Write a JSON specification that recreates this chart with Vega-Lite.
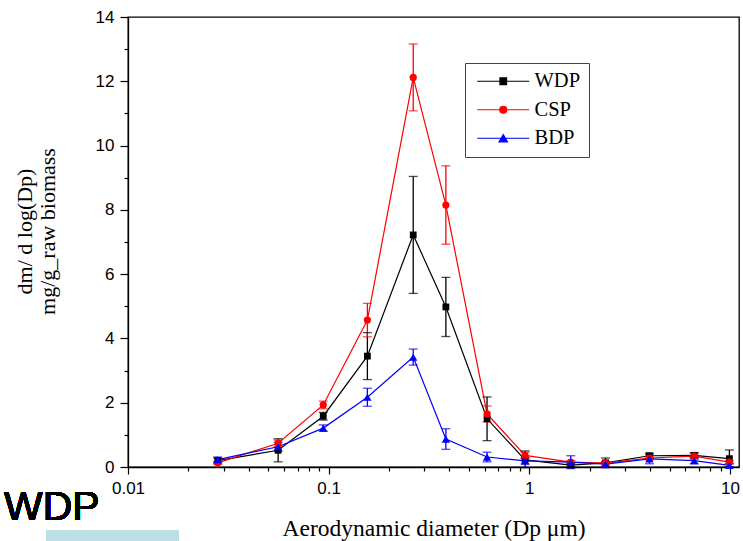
{
  "$schema": "https://vega.github.io/schema/vega-lite/v6.json",
  "width": 611,
  "height": 450,
  "autosize": "none",
  "padding": {"left": 128, "top": 17, "right": 4, "bottom": 74},
  "background": "white",
  "config": {
    "view": {"stroke": "#000000", "strokeWidth": 1.3},
    "axis": {"grid": false, "domainColor": "#000000", "tickColor": "#000000", "labelColor": "#000000", "titleColor": "#000000", "domainWidth": 1.3, "tickWidth": 1.2}
  },
  "data": {
    "values": [
      {"g": "WDP", "d": 0.028, "v": 0.20, "lo": 0.12, "hi": 0.28},
      {"g": "WDP", "d": 0.056, "v": 0.52, "lo": 0.16, "hi": 0.88},
      {"g": "WDP", "d": 0.094, "v": 1.58, "lo": 1.46, "hi": 1.70},
      {"g": "WDP", "d": 0.156, "v": 3.45, "lo": 2.72, "hi": 4.18},
      {"g": "WDP", "d": 0.264, "v": 7.22, "lo": 5.40, "hi": 9.04},
      {"g": "WDP", "d": 0.384, "v": 4.98, "lo": 4.06, "hi": 5.90},
      {"g": "WDP", "d": 0.616, "v": 1.50, "lo": 0.82, "hi": 2.18},
      {"g": "WDP", "d": 0.953, "v": 0.22, "lo": -0.02, "hi": 0.50},
      {"g": "WDP", "d": 1.61, "v": 0.06, "lo": 0.0, "hi": 0.12},
      {"g": "WDP", "d": 2.4, "v": 0.13, "lo": -0.02, "hi": 0.28},
      {"g": "WDP", "d": 3.97, "v": 0.35, "lo": 0.27, "hi": 0.43},
      {"g": "WDP", "d": 6.64, "v": 0.36, "lo": 0.28, "hi": 0.44},
      {"g": "WDP", "d": 9.94, "v": 0.26, "lo": 0.0, "hi": 0.53},
      {"g": "CSP", "d": 0.028, "v": 0.13, "lo": 0.08, "hi": 0.18},
      {"g": "CSP", "d": 0.056, "v": 0.74, "lo": 0.64, "hi": 0.84},
      {"g": "CSP", "d": 0.094, "v": 1.93, "lo": 1.81, "hi": 2.05},
      {"g": "CSP", "d": 0.156, "v": 4.57, "lo": 4.05, "hi": 5.09},
      {"g": "CSP", "d": 0.264, "v": 12.12, "lo": 11.08, "hi": 13.16},
      {"g": "CSP", "d": 0.384, "v": 8.15, "lo": 6.93, "hi": 9.37},
      {"g": "CSP", "d": 0.616, "v": 1.65, "lo": 1.40, "hi": 1.90},
      {"g": "CSP", "d": 0.953, "v": 0.36, "lo": 0.26, "hi": 0.46},
      {"g": "CSP", "d": 1.61, "v": 0.15, "lo": 0.10, "hi": 0.20},
      {"g": "CSP", "d": 2.4, "v": 0.12, "lo": 0.07, "hi": 0.17},
      {"g": "CSP", "d": 3.97, "v": 0.28, "lo": 0.22, "hi": 0.34},
      {"g": "CSP", "d": 6.64, "v": 0.34, "lo": 0.24, "hi": 0.44},
      {"g": "CSP", "d": 9.94, "v": 0.15, "lo": 0.10, "hi": 0.20},
      {"g": "BDP", "d": 0.028, "v": 0.23, "lo": 0.15, "hi": 0.31},
      {"g": "BDP", "d": 0.056, "v": 0.63, "lo": 0.49, "hi": 0.77},
      {"g": "BDP", "d": 0.094, "v": 1.21, "lo": 1.11, "hi": 1.31},
      {"g": "BDP", "d": 0.156, "v": 2.17, "lo": 1.89, "hi": 2.45},
      {"g": "BDP", "d": 0.264, "v": 3.42, "lo": 3.17, "hi": 3.67},
      {"g": "BDP", "d": 0.384, "v": 0.87, "lo": 0.55, "hi": 1.19},
      {"g": "BDP", "d": 0.616, "v": 0.31, "lo": 0.16, "hi": 0.46},
      {"g": "BDP", "d": 0.953, "v": 0.19, "lo": 0.09, "hi": 0.29},
      {"g": "BDP", "d": 1.61, "v": 0.15, "lo": -0.05, "hi": 0.35},
      {"g": "BDP", "d": 2.4, "v": 0.09, "lo": 0.01, "hi": 0.17},
      {"g": "BDP", "d": 3.97, "v": 0.25, "lo": 0.10, "hi": 0.40},
      {"g": "BDP", "d": 6.64, "v": 0.20, "lo": 0.10, "hi": 0.30},
      {"g": "BDP", "d": 9.94, "v": 0.05, "lo": 0.0, "hi": 0.10}
    ]
  },
  "layer": [
    {
      "mark": {"type": "line", "strokeWidth": 1.2, "clip": false},
      "encoding": {
        "x": {"field": "d", "type": "quantitative", "scale": {"type": "log", "domain": [0.01, 11.1], "nice": false},
          "axis": {"orient": "bottom", "values": [0.01, 0.1, 1, 10], "format": "~g", "labelFont": "Liberation Sans", "labelFontSize": 17, "labelPadding": 6, "labelFlush": false, "labelOverlap": false, "tickSize": 7,
            "title": "Aerodynamic diameter (Dp μm)", "titleFont": "Liberation Serif", "titleFontSize": 23.5, "titleFontWeight": "normal", "titleY": 68, "titleBaseline": "alphabetic"}},
        "y": {"field": "v", "type": "quantitative", "scale": {"domain": [0, 14], "nice": false, "zero": false},
          "axis": {"orient": "left", "values": [0, 2, 4, 6, 8, 10, 12, 14], "labelFont": "Liberation Sans", "labelFontSize": 17, "labelPadding": 6, "tickSize": 8,
            "title": ["dm/ d log(Dp)", "mg/g_raw biomass"], "titleFont": "Liberation Serif", "titleFontSize": 22, "titleFontWeight": "normal", "titleLineHeight": 23, "titleAngle": 270, "titleBaseline": "top", "titleAlign": "center", "titleX": -114, "titleY": 214}},
        "color": {"field": "g", "type": "nominal", "scale": {"domain": ["WDP", "CSP", "BDP"], "range": ["#000000", "#ff0000", "#0000ff"]},
          "legend": {"title": null, "orient": "none", "legendX": 337, "legendY": 46, "direction": "vertical",
            "labelFont": "Liberation Serif", "labelFontSize": 20.5, "labelColor": "#000000", "symbolSize": 100, "symbolOffset": 20, "labelOffset": 21,
            "padding": 8, "rowPadding": 7.5, "strokeColor": "#444444", "fillColor": "#ffffff", "symbolStrokeWidth": 1.2,
            "encoding": {"symbols": {
              "shape": {"condition": [
                {"test": "datum.value === 'WDP'", "value": "M-5.2,0H5.2M-0.66,-0.66H0.66V0.66H-0.66Z"},
                {"test": "datum.value === 'CSP'", "value": "M-5.2,0H5.2M0.7,0A0.7,0.7,0,1,1,-0.7,0A0.7,0.7,0,1,1,0.7,0Z"}
              ], "value": "M-5.2,0H5.2M0,-0.72L0.84,0.72H-0.84Z"},
              "fill": {"condition": [
                {"test": "datum.value === 'WDP'", "value": "#000000"},
                {"test": "datum.value === 'CSP'", "value": "#ff0000"}
              ], "value": "#0000ff"},
              "stroke": {"condition": [
                {"test": "datum.value === 'WDP'", "value": "#000000"},
                {"test": "datum.value === 'CSP'", "value": "#ff0000"}
              ], "value": "#0000ff"},
              "strokeWidth": {"value": 1.2}
            }}}}
      }
    },
    {
      "mark": {"type": "rule", "strokeWidth": 1.3, "clip": false},
      "encoding": {
        "x": {"field": "d", "type": "quantitative", "axis": null},
        "y": {"field": "lo", "type": "quantitative", "axis": null},
        "y2": {"field": "hi"},
        "color": {"field": "g", "type": "nominal", "legend": null}
      }
    },
    {
      "mark": {"type": "tick", "orient": "horizontal", "size": 9, "thickness": 1.3, "clip": false},
      "encoding": {
        "x": {"field": "d", "type": "quantitative", "axis": null},
        "y": {"field": "lo", "type": "quantitative", "axis": null},
        "color": {"field": "g", "type": "nominal", "legend": null}
      }
    },
    {
      "mark": {"type": "tick", "orient": "horizontal", "size": 9, "thickness": 1.3, "clip": false},
      "encoding": {
        "x": {"field": "d", "type": "quantitative", "axis": null},
        "y": {"field": "hi", "type": "quantitative", "axis": null},
        "color": {"field": "g", "type": "nominal", "legend": null}
      }
    },
    {
      "mark": {"type": "point", "filled": true, "opacity": 1, "clip": false},
      "encoding": {
        "x": {"field": "d", "type": "quantitative",
          "axis": {"orient": "bottom", "values": [0.02, 0.03, 0.04, 0.05, 0.06, 0.07, 0.08, 0.09, 0.2, 0.3, 0.4, 0.5, 0.6, 0.7, 0.8, 0.9, 2, 3, 4, 5, 6, 7, 8, 9], "labels": false, "domain": false, "tickSize": 4, "title": null}},
        "y": {"field": "v", "type": "quantitative",
          "axis": {"orient": "left", "values": [1, 3, 5, 7, 9, 11, 13], "labels": false, "domain": false, "tickSize": 4, "title": null}},
        "color": {"field": "g", "type": "nominal", "legend": null},
        "shape": {"condition": [
          {"test": "datum.g === 'WDP'", "value": "square"},
          {"test": "datum.g === 'CSP'", "value": "circle"}
        ], "value": "triangle-up"},
        "size": {"condition": [
          {"test": "datum.g === 'WDP'", "value": 46},
          {"test": "datum.g === 'CSP'", "value": 52}
        ], "value": 70}
      }
    },
    {
      "mark": {"type": "rect", "color": "#b9e1e3", "clip": false},
      "encoding": {
        "x": {"datum": 0.003903, "type": "quantitative", "axis": null},
        "x2": {"datum": 0.017948},
        "y": {"datum": -1.96, "type": "quantitative", "axis": null},
        "y2": {"datum": -2.45}
      }
    },
    {
      "mark": {"type": "text", "text": "WDP", "font": "Liberation Sans", "fontSize": 41, "align": "left", "baseline": "alphabetic", "color": "#000000", "clip": false},
      "encoding": {
        "x": {"datum": 0.00241, "type": "quantitative", "axis": null},
        "y": {"datum": -1.649, "type": "quantitative", "axis": null}
      }
    }
  ],
  "resolve": {"axis": {"x": "independent", "y": "independent"}}
}
